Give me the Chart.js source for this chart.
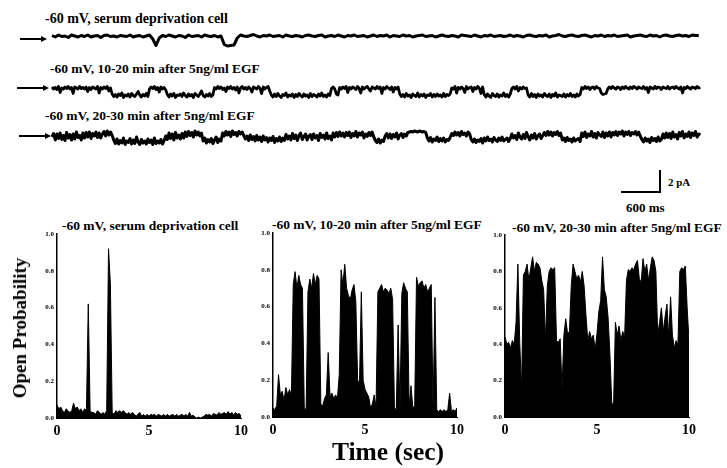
<!DOCTYPE html>
<html>
<head>
<meta charset="utf-8">
<script src="https://cdn.jsdelivr.net/npm/chart.js@4.4.0/dist/chart.umd.min.js"></script>
<style>
  body { margin: 0; background: #fff; }
  #page { position: relative; width: 727px; height: 468px; overflow: hidden; background: #fff;
    font-family: 'Liberation Serif', 'Times New Roman', serif; font-weight: bold; color: #000; }
  .txt { position: absolute; white-space: nowrap; line-height: 14px; font-size: 13.5px; }
  canvas { position: absolute; }
  .arrow { position: absolute; height: 1.5px; background: #000; }
  .arrow:after { content: ''; position: absolute; right: -5px; top: -2.5px; border-left: 6px solid #000;
    border-top: 3.25px solid transparent; border-bottom: 3.25px solid transparent; }
  .bar { position: absolute; background: #000; }
</style>
</head>
<body>
<div id="page">
  <!-- top current traces -->
  <div class="txt" style="left:45px; top:12px; font-size:14px;">-60 mV, serum deprivation cell</div>
  <div class="arrow" style="left:20px; top:38px; width:22px;"></div>
  <canvas id="trace1" width="727" height="30" style="left:0; top:26px;"></canvas>

  <div class="txt" style="left:50px; top:62px;">-60 mV, 10-20 min after 5ng/ml EGF</div>
  <div class="arrow" style="left:17px; top:87px; width:27px;"></div>
  <canvas id="trace2" width="727" height="30" style="left:0; top:78px;"></canvas>

  <div class="txt" style="left:45px; top:109px;">-60 mV, 20-30 min after 5ng/ml EGF</div>
  <div class="arrow" style="left:19px; top:135px; width:27px;"></div>
  <canvas id="trace3" width="727" height="30" style="left:0; top:125px;"></canvas>

  <!-- scale bar -->
  <div class="bar" style="left:621px; top:191px; width:40px; height:2px;"></div>
  <div class="bar" style="left:659px; top:170px; width:2px; height:23px;"></div>
  <div class="txt" style="left:668px; top:175px; font-size:11px;">2 pA</div>
  <div class="txt" style="left:626px; top:201px; font-size:13px;">600 ms</div>

  <!-- open probability panels -->
  <div class="txt" style="left:62px; top:219px;">-60 mV, serum deprivation cell</div>
  <div class="txt" style="left:272px; top:218px;">-60 mV, 10-20 min after 5ng/ml EGF</div>
  <div class="txt" style="left:512px; top:221px;">-60 mV, 20-30 min after 5ng/ml EGF</div>
  <canvas id="po1" width="250" height="222" style="left:0; top:226px;"></canvas>
  <canvas id="po2" width="240" height="222" style="left:250px; top:226px;"></canvas>
  <canvas id="po3" width="245" height="222" style="left:482px; top:226px;"></canvas>

  <div class="txt" style="left:20px; top:328px; font-size:19px; line-height:20px; transform:translate(-50%,-50%) rotate(-90deg);">Open Probability</div>
  <div class="txt" style="left:388px; top:452px; font-size:25.5px; line-height:26px; transform:translate(-50%,-50%);">Time (sec)</div>
</div>

<script>
'use strict';

//--------> Data <--------
// serum deprivation trace, pA, one sample every 50 ms
const trace1Step = 0.05;
const trace1 = [
  0.05,-0.1,0.1,-0.05,0.0,-0.15,0.1,0.0,-0.1,0.05,-0.05,0.1,-0.1,0.0,0.05,-0.15,0.05,0.1,-0.05,0.0,
  -0.1,0.05,0.0,-0.05,0.1,-0.1,0.0,0.05,-0.1,0.0,0.1,-0.3,-0.95,-0.2,0.05,-0.05,0.1,0.0,-0.1,0.05,
  0.0,-0.15,0.1,-0.05,0.0,0.05,-0.1,0.1,0.0,-0.05,0.05,-0.1,0.0,-0.85,-1.0,-0.95,-0.9,-0.2,0.1,0.0,
  -0.05,0.05,0.15,0.0,-0.1,0.05,0.0,0.1,-0.05,0.0,0.05,-0.1,0.1,0.0,-0.05,0.05,0.0,-0.1,0.05,0.1,
  0.0,-0.05,0.05,0.1,-0.1,0.0,0.05,-0.05,0.1,0.0,-0.1,0.05,0.0,0.1,-0.05,0.0,0.05,-0.1,0.0,0.1,
  -0.05,0.05,0.0,0.1,-0.1,0.05,0.0,-0.05,0.1,0.0,0.05,-0.1,0.0,0.05,0.1,-0.05,0.0,0.05,-0.1,0.0,
  0.1,0.0,-0.05,0.05,0.0,-0.1,0.1,0.05,0.0,-0.05,0.1,0.0,-0.1,0.05,0.0,0.1,-0.05,0.0,0.05,-0.05,
  0.0,0.1,-0.05,0.05,0.0,-0.1,0.05,0.1,0.0,-0.05,0.05,0.0,0.1,-0.1,0.0,0.05,0.15,0.0,-0.05,0.05,
  0.1,0.0,-0.05,0.05,0.1,0.0,-0.1,0.05,0.0,0.1,-0.05,0.05,0.0,0.1,-0.05,0.0,0.05,0.1,-0.1,0.0,
  0.05,0.1,0.0,-0.05,0.1,0.0,0.05,-0.1,0.05,0.1,0.0,-0.05,0.05,0.1,0.0,0.05,-0.05,0.1,0.05,0.05
];
// EGF traces, pA, one sample every 25 ms
const traceStep = 0.025;
const trace2 = [
  0.1,-0.1,0.05,-0.15,0.15,-0.45,0.0,-0.1,0.1,-0.05,0.15,-0.1,0.05,-0.55,0.1,0.0,-0.1,0.15,-0.05,0.05,
  -0.1,0.1,-0.35,0.05,-0.15,0.1,0.0,-0.1,0.15,-0.5,0.05,-0.1,0.1,-0.05,0.15,-0.3,0.0,-0.6,-0.85,-0.65,
  -0.9,-0.6,-0.75,-0.5,-0.95,-0.7,-0.8,-0.6,-0.9,-0.55,-0.75,-0.85,-0.6,-0.35,-0.7,-0.9,-0.65,-0.8,-0.55,-0.85,
  -0.1,0.1,-0.05,0.15,-0.15,0.05,-0.4,0.1,-0.1,0.05,-0.2,-0.65,-0.9,-0.6,-0.8,-0.55,-0.95,-0.7,-0.75,-0.6,
  -0.85,-0.5,-0.75,-0.9,-0.6,-0.8,-0.65,-0.95,-0.55,-0.7,-0.85,-0.6,-0.3,-0.75,-0.9,-0.65,-0.8,-0.55,-0.85,-0.7,
  0.05,-0.1,0.15,-0.05,0.1,-0.15,0.0,-0.35,0.1,-0.05,0.15,-0.1,0.05,-0.2,0.1,-0.5,0.0,0.15,-0.1,0.05,
  -0.15,0.1,-0.05,-0.4,0.1,0.0,-0.1,0.15,-0.05,-0.55,0.1,-0.1,0.05,0.15,-0.3,-0.7,-0.9,-0.6,-0.85,-0.55,
  -0.8,-0.95,-0.65,-0.75,-0.5,-0.9,-0.7,-0.8,-0.6,-0.95,-0.65,-0.85,-0.55,-0.75,-0.9,-0.6,-0.8,-0.7,-0.95,-0.55,
  -0.85,-0.65,-0.75,-0.9,-0.6,-0.8,-0.5,-0.85,-0.7,-0.9,-0.6,-0.75,-0.05,0.1,-0.1,-0.6,-0.7,0.05,-0.1,0.1,
  -0.05,0.15,-0.45,0.05,-0.1,0.1,0.0,-0.15,0.15,-0.05,-0.5,0.1,-0.1,0.05,0.15,-0.1,-0.3,0.1,0.0,-0.1,
  0.15,-0.05,0.1,-0.55,0.05,-0.1,0.15,0.0,-0.15,0.1,-0.4,0.05,-0.1,0.1,-0.6,-0.85,-0.65,-0.9,-0.55,-0.8,
  -0.7,-0.95,-0.6,-0.75,-0.85,-0.5,-0.9,-0.65,-0.8,-0.6,-0.95,-0.7,-0.75,-0.55,-0.9,-0.65,-0.85,-0.6,-0.8,-0.7,
  -0.9,-0.55,-0.85,-0.65,-0.75,-0.6,0.0,-0.1,0.15,-0.5,0.05,-0.1,0.1,-0.05,-0.45,0.15,-0.1,0.05,0.1,-0.35,
  0.05,-0.1,0.15,-0.05,-0.55,0.1,-0.65,-0.9,-0.6,-0.8,-0.95,-0.55,-0.75,-0.85,-0.6,-0.9,-0.7,-0.8,-0.5,-0.85,
  -0.65,-0.9,-0.6,-0.05,0.1,-0.1,0.15,-0.3,0.05,-0.1,0.1,-0.05,0.0,-0.7,-0.9,-0.55,-0.85,-0.65,-0.95,-0.6,
  -0.8,-0.7,-0.9,-0.55,-0.75,-0.85,-0.6,-0.95,-0.65,-0.8,-0.5,-0.9,-0.7,-0.75,-0.85,-0.6,-0.9,-0.65,-0.8,-0.55,
  -0.85,-0.7,-0.9,-0.6,-0.8,-0.65,0.05,-0.1,0.15,-0.05,0.1,-0.15,0.05,0.1,-0.1,0.15,0.0,-0.05,-0.5,-0.65,
  -0.6,-0.55,-0.1,0.1,-0.05,0.15,0.0,-0.1,0.1,0.05,-0.15,0.1,-0.05,0.15,0.0,-0.1,0.1,-0.05,0.15,0.05,
  -0.1,0.1,0.0,-0.05,0.15,-0.1,0.05,-0.45,0.1,0.0,-0.1,0.15,-0.05,0.1,0.05,-0.15,0.1,0.0,-0.05,0.15,
  -0.1,0.05,0.1,-0.05,0.15,0.0,-0.1,0.1,-0.5,0.05,-0.05,0.15,0.0,-0.1,0.1,0.05,-0.05,0.15,0.0,0.05
];
const trace3 = [
  -0.2,0.15,-0.5,0.1,-0.35,0.2,-0.45,-0.05,-0.55,0.25,-0.3,0.05,-0.5,0.1,-0.4,0.3,-0.25,-0.05,-0.5,0.2,
  -0.3,0.25,-0.2,0.3,-0.35,0.15,-0.1,0.3,-0.25,0.2,-0.3,0.1,0.35,-0.1,0.4,0.0,0.3,-0.05,-0.5,-0.85,
  -0.4,-0.9,-0.55,-0.8,-0.3,-0.95,-0.6,-0.75,-0.35,-0.9,-0.5,-0.85,-0.2,-0.7,-0.95,-0.45,-0.8,-0.6,-0.9,-0.4,
  -0.75,-0.5,-0.95,-0.3,-0.85,-0.6,-0.8,-0.45,-0.9,-0.55,-0.1,-0.45,0.2,-0.35,0.1,-0.5,0.25,-0.3,0.0,-0.4,
  0.15,-0.3,0.3,-0.15,0.35,-0.05,0.25,-0.2,0.4,0.0,0.3,-0.1,0.2,-0.6,-0.3,-0.8,-0.45,-0.7,-0.35,-0.85,
  -0.5,-0.2,-0.75,-0.4,-0.6,0.2,-0.1,0.35,0.0,0.3,-0.15,0.4,0.05,0.25,-0.1,0.35,0.1,0.3,-0.05,-0.4,
  -0.1,-0.55,0.0,-0.45,-0.15,-0.6,-0.05,-0.5,-0.2,-0.65,-0.1,-0.5,-0.25,-0.7,-0.3,-0.55,-0.15,-0.75,-0.35,-0.6,
  -0.2,-0.65,-0.3,-0.55,0.05,-0.4,-0.1,-0.5,0.15,-0.35,0.0,-0.55,-0.05,0.2,-0.45,-0.15,0.1,-0.5,-0.1,0.05,
  -0.45,0.1,-0.3,-0.05,-0.55,0.15,-0.25,0.0,-0.4,0.2,-0.35,-0.1,-0.5,0.2,-0.2,0.25,-0.15,0.3,-0.1,0.2,
  -0.2,0.25,-0.05,0.3,-0.25,0.15,-0.1,0.35,-0.2,0.2,0.0,0.3,-0.3,0.1,-0.15,0.25,-0.05,0.3,-0.2,-0.55,
  -0.75,-0.4,-0.8,-0.5,-0.65,-0.1,0.15,-0.3,0.1,-0.35,0.05,-0.2,0.2,-0.4,0.0,0.15,-0.25,0.1,-0.1,0.25,
  0.3,0.35,0.3,0.4,0.35,0.3,0.4,0.35,0.3,0.35,0.25,-0.3,-0.6,-0.25,-0.7,-0.4,-0.55,-0.2,-0.65,-0.35,
  -0.6,-0.3,-0.7,-0.45,-0.55,-0.25,0.15,-0.05,0.3,0.0,0.25,-0.1,0.35,0.05,0.2,-0.1,0.3,0.1,-0.45,-0.7,
  -0.4,-0.75,-0.5,-0.65,-0.35,-0.8,-0.3,-0.6,-0.2,-0.55,-0.4,-0.7,-0.25,-0.5,-0.65,-0.3,-0.55,-0.2,-0.6,-0.45,
  -0.3,-0.65,-0.35,0.1,-0.3,-0.05,-0.45,0.2,-0.2,-0.4,0.05,-0.35,0.25,-0.15,-0.5,0.0,-0.3,0.15,-0.4,-0.1,
  0.1,-0.35,-0.05,0.25,-0.05,0.35,0.0,0.3,-0.1,0.25,0.05,0.35,-0.05,0.2,-0.5,-0.3,-0.65,-0.25,-0.55,-0.4,
  -0.7,-0.3,-0.6,-0.45,-0.35,-0.65,0.2,-0.15,0.3,-0.25,0.1,-0.1,0.35,-0.2,0.15,-0.3,0.25,0.0,-0.15,0.3,
  -0.25,0.2,-0.1,0.3,-0.2,0.25,0.0,0.35,-0.05,0.3,0.1,0.4,-0.1,0.3,0.05,0.35,-0.05,0.25,0.1,0.35,
  0.0,0.3,-0.1,-0.45,-0.7,-0.3,-0.6,-0.4,-0.75,-0.25,-0.55,-0.35,-0.65,-0.2,-0.6,-0.45,0.1,-0.3,0.2,-0.25,
  0.15,-0.35,0.3,-0.2,0.05,-0.4,0.25,-0.1,0.35,-0.3,0.1,-0.15,0.3,-0.25,0.2,-0.05,0.35,-0.2,0.1,0.0
];

// open probability, one value every 100 ms from 0 to 10 s
const poStep = 0.1;
const poSerum = [
  0.07,0.05,0.06,0.04,0.03,0.05,0.04,0.03,0.04,0.08,
  0.05,0.06,0.04,0.05,0.03,0.05,0.04,0.62,0.04,0.03,
  0.03,0.02,0.04,0.03,0.02,0.03,0.02,0.04,0.92,0.73,
  0.03,0.02,0.04,0.03,0.04,0.03,0.04,0.03,0.02,0.03,
  0.02,0.03,0.02,0.01,0.02,0.03,0.01,0.02,0.01,0.02,
  0.01,0.02,0.015,0.02,0.01,0.02,0.015,0.01,0.02,0.01,
  0.02,0.01,0.015,0.02,0.01,0.02,0.01,0.015,0.02,0.01,
  0.02,0.01,0.03,0.01,0.015,0.005,0.0,0.005,0.0,0.005,
  0.01,0.02,0.015,0.02,0.01,0.025,0.02,0.015,0.03,0.02,
  0.025,0.03,0.02,0.035,0.02,0.03,0.015,0.03,0.02,0.025,
  0.01
];
const poEgf10 = [
  0.05,0.04,0.06,0.23,0.12,0.14,0.09,0.16,0.12,0.15,
  0.11,0.72,0.79,0.7,0.77,0.72,0.7,0.05,0.04,0.68,
  0.75,0.7,0.78,0.72,0.77,0.75,0.07,0.06,0.1,0.12,
  0.35,0.11,0.13,0.1,0.12,0.1,0.23,0.8,0.72,0.83,
  0.7,0.66,0.64,0.69,0.72,0.63,0.2,0.18,0.68,0.2,
  0.15,0.13,0.11,0.05,0.07,0.12,0.05,0.68,0.7,0.72,
  0.68,0.7,0.69,0.67,0.7,0.64,0.05,0.04,0.5,0.04,
  0.67,0.73,0.7,0.68,0.05,0.17,0.05,0.06,0.76,0.71,
  0.73,0.74,0.7,0.72,0.68,0.7,0.72,0.04,0.65,0.04,
  0.03,0.04,0.03,0.04,0.03,0.04,0.13,0.03,0.04,0.03,
  0.05
];
const poEgf20 = [
  0.44,0.4,0.41,0.38,0.42,0.4,0.52,0.84,0.41,0.15,
  0.78,0.8,0.84,0.75,0.82,0.88,0.8,0.85,0.84,0.82,
  0.75,0.7,0.42,0.72,0.8,0.82,0.81,0.82,0.42,0.41,
  0.43,0.15,0.45,0.54,0.46,0.47,0.72,0.84,0.8,0.76,
  0.78,0.74,0.8,0.72,0.56,0.42,0.47,0.43,0.45,0.37,
  0.46,0.58,0.64,0.88,0.7,0.66,0.55,0.35,0.08,0.06,
  0.52,0.45,0.5,0.42,0.47,0.44,0.75,0.81,0.8,0.82,
  0.81,0.84,0.86,0.76,0.74,0.87,0.8,0.84,0.75,0.82,
  0.88,0.86,0.8,0.45,0.52,0.6,0.47,0.55,0.62,0.44,
  0.66,0.45,0.38,0.42,0.4,0.8,0.82,0.81,0.83,0.6,
  0.42
];
const timeTicks = [0, 5, 10];
const poTicks = [0, 0.2, 0.4, 0.6, 0.8, 1.0];

const serif = 'Liberation Serif, Times New Roman, serif';

//--------> Current traces <--------
function traceChart (id, values, step, width) {
  new Chart(document.getElementById(id), {
    type: 'line',
    data: {
      datasets: [{
        data: values.map((v, i) => ({ x: i * step, y: v })),
        borderColor: '#000',
        borderWidth: width,
        borderJoinStyle: 'round',
        pointRadius: 0,
        clip: false
      }]
    },
    options: {
      responsive: false,
      animation: false,
      events: [],
      layout: { padding: { left: 52, right: 25, top: 0, bottom: 0 } },
      plugins: { legend: { display: false }, tooltip: { enabled: false } },
      scales: {
        x: { type: 'linear', display: false, min: 0, max: 10 },
        y: { display: false, min: -2, max: 1 }
      }
    }
  });
}
traceChart('trace1', trace1, trace1Step, 3);
traceChart('trace2', trace2, traceStep, 2.8);
traceChart('trace3', trace3, traceStep, 3);

//--------> Open probability panels <--------
// box = where the plot area sits inside the canvas
function poChart (id, values, box) {
  const cv = document.getElementById(id);
  new Chart(cv, {
    type: 'line',
    data: {
      datasets: [{
        data: values.map((v, i) => ({ x: i * poStep, y: v })),
        borderColor: '#000',
        backgroundColor: '#000',
        borderWidth: 1,
        pointRadius: 0,
        fill: 'origin'
      }]
    },
    options: {
      responsive: false,
      animation: false,
      events: [],
      layout: { padding: { left: 0, bottom: 0, top: box.top, right: cv.width - box.right } },
      plugins: { legend: { display: false }, tooltip: { enabled: false } },
      scales: {
        x: {
          type: 'linear', min: 0, max: 10,
          afterBuildTicks: s => { s.ticks = timeTicks.map(v => ({ value: v })); },
          afterFit: s => { s.height = cv.height - box.bottom; s.paddingLeft = 0; s.paddingRight = 0; },
          grid: { display: false, drawTicks: false },
          border: { display: true, color: '#000', width: 1 },
          ticks: { color: '#000', padding: 5, maxRotation: 0, font: { family: serif, size: 14, weight: 'bold' } }
        },
        y: {
          min: 0, max: 1,
          afterBuildTicks: s => { s.ticks = poTicks.map(v => ({ value: v })); },
          afterFit: s => { s.width = box.left; s.paddingTop = 0; s.paddingBottom = 0; },
          grid: { display: false, drawTicks: false },
          border: { display: true, color: '#000', width: 1.5 },
          ticks: { color: '#000', padding: 3, callback: v => v.toFixed(1), font: { family: serif, size: 7, weight: 'bold' } }
        }
      }
    }
  });
}
poChart('po1', poSerum, { left: 57, right: 241, top: 8, bottom: 192 });
poChart('po2', poEgf10, { left: 23, right: 207, top: 7, bottom: 191 });
poChart('po3', poEgf20, { left: 23, right: 207, top: 9, bottom: 191 });
</script>
</body>
</html>
